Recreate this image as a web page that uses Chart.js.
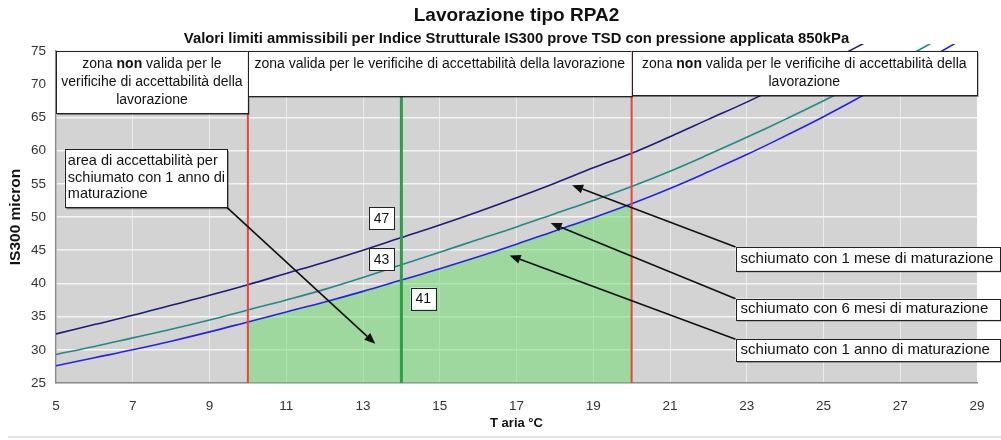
<!DOCTYPE html>
<html><head><meta charset="utf-8">
<script src="https://cdn.jsdelivr.net/npm/chart.js@4.4.1/dist/chart.umd.min.js"></script>
<style>html,body{margin:0;padding:0;background:#fff}#wrap{width:1001px;height:440px;position:relative}</style>
</head><body><div id="wrap"><canvas id="c" width="1001" height="440"></canvas></div>
<script>
// ---- data ----
const tAria = [5,6,7,8,9,10,11,12,13,14,15,16,17,18,19,20,21,22,23,24,25,26,27,28,29];
const schiumato1Mese = [32.4,33.8,35.2,36.7,38.2,39.8,41.5,43.2,45.0,46.9,48.8,50.8,52.9,55.1,57.4,59.6,62.1,64.7,67.3,70.1,73.0,76.0,79.1,null,null];
const schiumato6Mesi = [29.3,30.5,31.8,33.1,34.5,36.0,37.5,39.1,40.9,42.8,44.7,46.6,48.5,50.5,52.5,54.6,56.9,59.4,62.0,64.7,67.5,70.5,73.6,76.8,null];
const schiumato1Anno = [27.6,28.8,30.0,31.3,32.7,34.2,35.7,37.2,38.8,40.5,42.2,44.0,45.9,47.9,49.9,52.0,54.3,56.8,59.4,62.2,65.1,68.2,71.4,74.7,78.1];
const xTickValues = [5,7,9,11,13,15,17,19,21,23,25,27,29];
const yTickValues = [25,30,35,40,45,50,55,60,65,70,75];
const zonaMin = 10, zonaMax = 20, tRiferimento = 14;
const valoriRiferimento = ["47","43","41"];
const seriesNames = ["schiumato con 1 mese di maturazione","schiumato con 6 mesi di maturazione","schiumato con 1 anno di maturazione"];

const pts = arr => tAria.map((x,i)=>({x, y:arr[i]})).filter(p=>p.y!==null);
const areaPts = tAria.map((x,i)=>({x,y:schiumato1Anno[i]})).filter(p=>p.x>=zonaMin && p.x<=zonaMax);
const vline = (x)=>[{x, y:yTickValues[0]},{x, y:yTickValues[yTickValues.length-1]}];

const FONT = "'Liberation Sans', Arial, sans-serif";

function box(ctx,x1,y1,x2,y2,shadow){
  if(shadow){ctx.fillStyle='rgba(0,0,0,0.45)';ctx.fillRect(x1+1.5,y1+1.5,x2-x1,y2-y1);}
  ctx.fillStyle='#fff';ctx.fillRect(x1,y1,x2-x1,y2-y1);
  ctx.strokeStyle='#222';ctx.lineWidth=1;ctx.strokeRect(Math.round(x1)+0.5,Math.round(y1)+0.5,Math.round(x2-x1),Math.round(y2-y1));
}
function richLine(ctx, parts, cx, cy, size){
  let w=0;
  parts.forEach(p=>{ctx.font=(p.b?'bold ':'')+size+'px '+FONT; p.w=ctx.measureText(p.t).width; w+=p.w;});
  let x=cx-w/2;
  ctx.textAlign='left';ctx.textBaseline='middle';ctx.fillStyle='#111';
  parts.forEach(p=>{ctx.font=(p.b?'bold ':'')+size+'px '+FONT; ctx.fillText(p.t,x,cy); x+=p.w;});
}
function arrow(ctx,x1,y1,x2,y2){
  ctx.strokeStyle='#111';ctx.fillStyle='#111';ctx.lineWidth=1.6;
  const a=Math.atan2(y2-y1,x2-x1), L=11, W=4.5;
  const bx=x2-L*Math.cos(a), by=y2-L*Math.sin(a);
  ctx.beginPath();ctx.moveTo(x1,y1);ctx.lineTo(bx,by);ctx.stroke();
  ctx.beginPath();ctx.moveTo(x2,y2);
  ctx.lineTo(bx+W*Math.sin(a),by-W*Math.cos(a));
  ctx.lineTo(bx-W*Math.sin(a),by+W*Math.cos(a));ctx.closePath();ctx.fill();
}

const annot = {
  id:'annot',
  beforeDraw(chart){
    const {ctx, chartArea:a} = chart;
    ctx.save();ctx.fillStyle='#d3d3d3';ctx.fillRect(a.left,a.top,a.right-a.left,a.bottom-a.top);
    ctx.strokeStyle='#e2e2e2';ctx.lineWidth=2;ctx.beginPath();ctx.moveTo(8,437);ctx.lineTo(1001,437);ctx.stroke();
    ctx.restore();
  },
  afterDatasetsDraw(chart){
    const {ctx} = chart; const X=v=>chart.scales.x.getPixelForValue(v), Y=v=>chart.scales.y.getPixelForValue(v);
    ctx.save();
    const top=Y(75);
    // zone boxes
    box(ctx,X(5),top,X(zonaMin),Y(65.6),true);
    box(ctx,X(zonaMin),top,X(zonaMax),Y(68.2),true);
    box(ctx,X(zonaMax),top,X(29),Y(68.3),true);
    const s=14;
    const cL=(X(5)+X(zonaMin))/2, cM=(X(zonaMin)+X(zonaMax))/2, cR=(X(zonaMax)+X(29))/2;
    richLine(ctx,[{t:'zona '},{t:'non',b:1},{t:' valida per le'}],cL,top+13,s);
    richLine(ctx,[{t:'verificihe di accettabilità della'}],cL,top+31,s);
    richLine(ctx,[{t:'lavorazione'}],cL,top+49,s);
    richLine(ctx,[{t:'zona valida per le verificihe di accettabilità della lavorazione'}],cM,top+13,s);
    richLine(ctx,[{t:'zona '},{t:'non',b:1},{t:' valida per le verificihe di accettabilità della'}],cR,top+13,s);
    richLine(ctx,[{t:'lavorazione'}],cR,top+31,s);

    // left annotation
    const lx1=X(5.23), ly1=Y(60.2), lx2=X(9.46), ly2=Y(51.4);
    arrow(ctx,lx2,ly2,X(13.32),Y(30.9));
    box(ctx,lx1,ly1,lx2,ly2,true);
    ctx.font='14.5px '+FONT;ctx.fillStyle='#111';ctx.textAlign='left';ctx.textBaseline='middle';
    ['area di accettabilità per','schiumato con 1 anno di','maturazione'].forEach((t,i)=>ctx.fillText(t,lx1+3,ly1+12+i*16.5));

    // right annotations
    const rb=[[45.5,41.9,18.45,54.8],[37.7,34.5,17.89,49.1],[31.6,28.3,16.82,44.2]];
    const rx1=X(22.71), rx2=X(29.6);
    rb.forEach((r,i)=>{
      arrow(ctx,rx1,Y(r[0]),X(r[2]),Y(r[3]));
    });
    rb.forEach((r,i)=>{
      box(ctx,rx1,Y(r[0]),rx2,Y(r[1]),true);
      ctx.font='15px '+FONT;ctx.fillStyle='#111';ctx.textAlign='left';ctx.textBaseline='middle';
      ctx.fillText(seriesNames[i],rx1+5,(Y(r[0])+Y(r[1]))/2);
    });

    // reference value boxes
    const nb=[[13.48,49.8],[13.48,43.6],[14.57,37.7]];
    nb.forEach((n,i)=>{
      const cx=X(n[0]), cy=Y(n[1]);
      box(ctx,cx-12.5,cy-11,cx+12.5,cy+11,false);
      ctx.font='14px '+FONT;ctx.fillStyle='#111';ctx.textAlign='center';ctx.textBaseline='middle';
      ctx.fillText(valoriRiferimento[i],cx,cy+0.5);
    });
    ctx.restore();
  },
  afterDraw(chart){
    const {ctx, chartArea:a} = chart; const cx=(a.left+a.right)/2;
    ctx.save();ctx.fillStyle='#111';ctx.textAlign='center';ctx.textBaseline='middle';
    ctx.font='bold 19px '+FONT;ctx.fillText('Lavorazione tipo RPA2',cx,16);
    ctx.font='bold 14.8px '+FONT;ctx.fillText('Valori limiti ammissibili per Indice Strutturale IS300 prove TSD con pressione applicata 850kPa',cx,39);
    ctx.restore();
  }
};

const lineDs = (label,data,color)=>({label,data:pts(data),borderColor:color,borderWidth:1.6,pointRadius:0,tension:0.4,fill:false,clip:{left:0,top:7,right:0,bottom:0}});

new Chart(document.getElementById('c'),{
  type:'line',
  data:{datasets:[
    {label:'zona min',data:vline(zonaMin),borderColor:'#e8453c',borderWidth:2,pointRadius:0,fill:false},
    {label:'zona max',data:vline(zonaMax),borderColor:'#e8453c',borderWidth:2,pointRadius:0,fill:false},
    {label:'T rif',data:vline(tRiferimento),borderColor:'#25a246',borderWidth:3,pointRadius:0,fill:false},
    lineDs(seriesNames[0],schiumato1Mese,'#1c1c78'),
    lineDs(seriesNames[1],schiumato6Mesi,'#21888a'),
    lineDs(seriesNames[2],schiumato1Anno,'#2323e6'),
    {label:'area',data:areaPts,borderWidth:0,borderColor:'rgba(0,0,0,0)',pointRadius:0,tension:0.4,fill:'start',backgroundColor:'rgba(105,222,105,0.5)'}
  ]},
  options:{
    responsive:false,animation:false,devicePixelRatio:1,
    layout:{padding:{top:51,right:24,left:0,bottom:0}},
    plugins:{legend:{display:false},tooltip:{enabled:false},title:{display:false}},
    scales:{
      x:{type:'linear',min:5,max:29,
        afterBuildTicks:s=>{s.ticks=xTickValues.map(v=>({value:v}));},
        afterFit:s=>{s.height=57;},
        ticks:{font:{family:FONT,size:13.5},color:'#333',padding:15},
        grid:{color:'rgba(255,255,255,0.55)',lineWidth:1,drawTicks:false},
        border:{display:true,color:'#888',width:1.5},
        title:{display:true,text:'T aria °C',font:{family:FONT,size:13,weight:'bold'},color:'#111',padding:{top:0,bottom:9}}
      },
      y:{type:'linear',min:25,max:75,
        afterBuildTicks:s=>{s.ticks=yTickValues.map(v=>({value:v}));},
        afterFit:s=>{s.width=56;},
        ticks:{font:{family:FONT,size:13.5},color:'#333',padding:10},
        grid:{color:'#f4f4f4',lineWidth:1.5,drawTicks:false},
        border:{display:true,color:'#888',width:1.5},
        title:{display:true,text:'IS300 micron',font:{family:FONT,size:15.5,weight:'bold'},color:'#111',padding:{top:6,bottom:0}}
      }
    }
  },
  plugins:[annot]
});
</script></body></html>
